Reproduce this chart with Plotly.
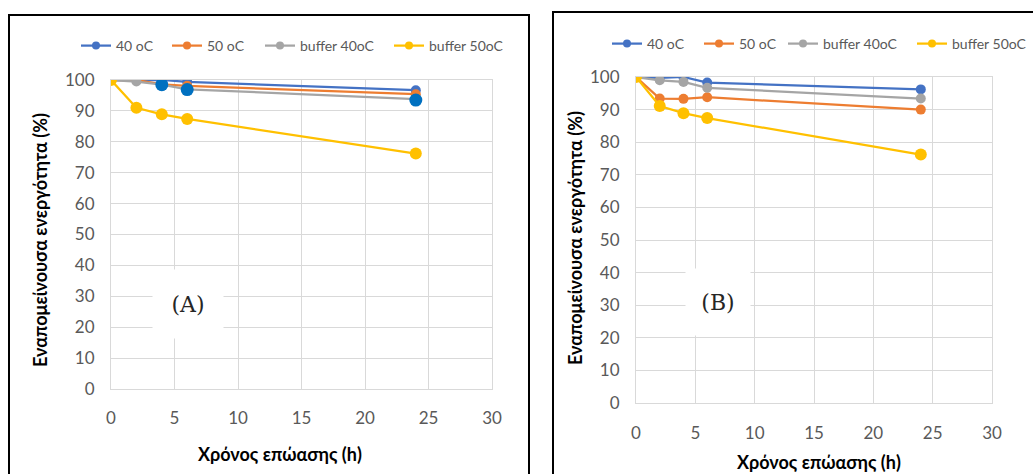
import plotly.graph_objects as go

# ---- data ----
hours = [0, 2, 4, 6, 24]
series_names = ["40 oC", "50 oC", "buffer 40oC", "buffer 50oC"]
colors = ["#4472C4", "#ED7D31", "#A5A5A5", "#FFC000"]

a_40 = [100, 100, 100, 99.4, 96.7]
a_50 = [100, 100, 98.6, 98.1, 95.4]
a_buf40 = [100, 99.5, 98.5, 97.0, 93.8]
a_buf50 = [100, 91.0, 88.9, 87.4, 76.2]
a_extra_x = [4, 6, 24]
a_extra_y = [98.5, 96.9, 93.5]

b_40 = [100, 99.7, 100, 98.3, 96.2]
b_50 = [100, 93.4, 93.3, 93.8, 90.0]
b_buf40 = [100, 99.0, 98.5, 96.7, 93.4]
b_buf50 = [100, 91.1, 88.9, 87.4, 76.2]

x_ticks = [0, 5, 10, 15, 20, 25, 30]
y_ticks = [0, 10, 20, 30, 40, 50, 60, 70, 80, 90, 100]

W, H = 1033, 474
FONT = "Lato"

def px(x):
    return x / W

def py(y):
    return 1 - y / H

fig = go.Figure()

panelA = [a_40, a_50, a_buf40, a_buf50]
panelB = [b_40, b_50, b_buf40, b_buf50]
sizes = [10, 10, 10, 12]

for name, col, ys, sz in zip(series_names, colors, panelA, sizes):
    fig.add_trace(go.Scatter(x=hours, y=ys, name=name, mode="lines+markers",
                             line=dict(color=col, width=2.25),
                             marker=dict(color=col, size=sz), showlegend=False,
                             xaxis="x", yaxis="y"))
fig.add_trace(go.Scatter(x=a_extra_x, y=a_extra_y, mode="markers", showlegend=False,
                         marker=dict(color="#0070C0", size=13), xaxis="x", yaxis="y"))
for name, col, ys, sz in zip(series_names, colors, panelB, sizes):
    fig.add_trace(go.Scatter(x=hours, y=ys, name=name, mode="lines+markers",
                             line=dict(color=col, width=2.25),
                             marker=dict(color=col, size=sz), showlegend=False,
                             xaxis="x2", yaxis="y2"))

# legend entries: one legend per entry so positions match
legA_x = [82, 173, 266, 395]
legB_x = [613, 705, 789, 918]
leg_layout = {}
k = 1
for panel, xs, yy, ax, ay in [("A", legA_x, 46, "x", "y"), ("B", legB_x, 44, "x2", "y2")]:
    for name, col, lx in zip(series_names, colors, xs):
        lname = "legend" if k == 1 else f"legend{k}"
        fig.add_trace(go.Scatter(x=[None], y=[None], name=name, mode="lines+markers",
                                 line=dict(color=col, width=2.25),
                                 marker=dict(color=col, size=8),
                                 xaxis=ax, yaxis=ay, legend=lname, showlegend=True))
        leg_layout[lname] = dict(orientation="h", x=px(lx - 6), y=py(yy), xanchor="left",
                                 yanchor="middle", bgcolor="rgba(0,0,0,0)",
                                 font=dict(family=FONT, size=14, color="#595959"))
        k += 1

axis_common = dict(showgrid=True, gridcolor="#D9D9D9", gridwidth=1, zeroline=False,
                   showline=True, linecolor="#D9D9D9", mirror=True, automargin=False,
                   tickfont=dict(family=FONT, size=17, color="#595959"), ticks="")

fig.update_layout(
    width=W, height=H, margin=dict(l=0, r=0, t=0, b=0),
    paper_bgcolor="white", plot_bgcolor="white",
    xaxis=dict(domain=[px(111), px(492)], range=[0, 30], tickvals=x_ticks,
               ticklabelstandoff=14, anchor="y", **axis_common),
    yaxis=dict(domain=[py(389), py(80)], range=[0, 100], tickvals=y_ticks,
               ticklabelstandoff=12, anchor="x", **axis_common),
    xaxis2=dict(domain=[px(636), px(992)], range=[0, 30], tickvals=x_ticks,
                ticklabelstandoff=15, anchor="y2", **axis_common),
    yaxis2=dict(domain=[py(403), py(77)], range=[0, 100], tickvals=y_ticks,
                ticklabelstandoff=12, anchor="x2", **axis_common),
    showlegend=True,
    **leg_layout,
)

# panel borders
fig.add_shape(type="rect", xref="paper", yref="paper", x0=px(9), x1=px(529),
              y0=py(490), y1=py(15), line=dict(color="black", width=2), layer="above")
fig.add_shape(type="rect", xref="paper", yref="paper", x0=px(553), x1=px(1045),
              y0=py(490), y1=py(12), line=dict(color="black", width=2), layer="above")

title_font = dict(family=FONT, size=18, color="black")
ann = [
    dict(x=px(280), y=py(454), text="<b>Χρόνος επώασης (h)</b>", font=title_font),
    dict(x=px(819), y=py(462), text="<b>Χρόνος επώασης (h)</b>", font=title_font),
    dict(x=px(40), y=py(240), text="<b>Εναπομείνουσα ενεργότητα (%)</b>", font=title_font, textangle=-90),
    dict(x=px(575), y=py(238), text="<b>Εναπομείνουσα ενεργότητα (%)</b>", font=title_font, textangle=-90),
    dict(x=px(188), y=py(304), text="(A)", font=dict(family="DejaVu Serif", size=22, color="#262626"),
         bgcolor="white", width=68, height=66),
    dict(x=px(718), y=py(302), text="(B)", font=dict(family="DejaVu Serif", size=22, color="#262626"),
         bgcolor="white", width=62, height=64),
]
for a in ann:
    fig.add_annotation(xref="paper", yref="paper", showarrow=False,
                       xanchor="center", yanchor="middle", **a)

fig.write_html("out.html")
